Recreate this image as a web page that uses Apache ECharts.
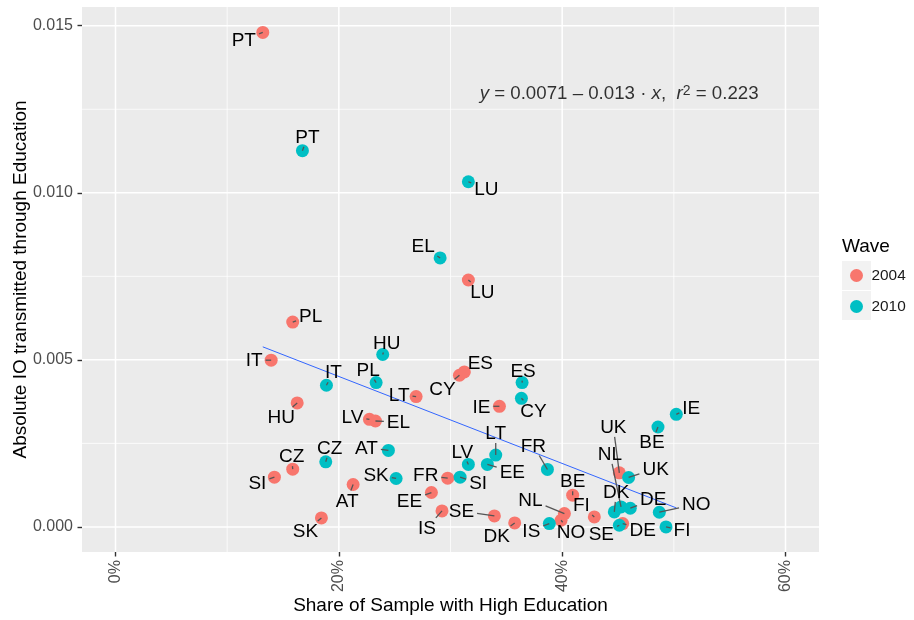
<!DOCTYPE html>
<html><head><meta charset="utf-8">
<script src="https://cdn.jsdelivr.net/npm/echarts@6/dist/echarts.min.js"></script>
<style>html,body{margin:0;padding:0;background:#fff}#c{width:914px;height:620px}</style>
</head><body><div id="c"></div>
<script>
// ---------- data (x = % of sample with high education, y = absolute IO) ----------
const countries2004 = ['PT','PL','IT','HU','LV','EL','LT','CY','ES','IE','LU','CZ','SI','AT','SK','FR','EE','IS','SE','DK','BE','NL','NO','FI','UK','DE'];
const x2004 = [13.19,15.87,13.94,16.27,22.74,23.28,26.92,30.80,31.24,34.38,31.60,15.87,14.23,21.28,18.44,29.75,28.29,29.24,33.93,35.75,40.94,40.20,39.90,42.88,45.12,45.42];
const y2004 = [0.01480,0.00613,0.00499,0.00371,0.00322,0.00317,0.00390,0.00454,0.00464,0.00361,0.00739,0.00173,0.00149,0.00127,0.00027,0.00146,0.00103,0.00048,0.00033,0.00012,0.00095,0.00040,0.00020,0.00030,0.00162,0.00010];

const countries2010 = ['PT','EL','LU','HU','IT','PL','AT','CZ','SK','SI','LV','EE','LT','FR','IS','ES','CY','BE','IE','UK','NL','DK','DE','SE','NO','FI'];
const x2010 = [16.74,29.07,31.60,23.93,18.89,23.34,24.44,18.83,25.13,30.86,31.60,33.30,34.05,38.68,38.85,36.41,36.35,48.58,50.22,45.95,45.27,44.67,46.10,45.12,48.70,49.30];
const y2010 = [0.01126,0.00805,0.01033,0.00516,0.00424,0.00432,0.00229,0.00195,0.00145,0.00149,0.00187,0.00187,0.00215,0.00172,0.00010,0.00432,0.00385,0.00299,0.00337,0.00148,0.00060,0.00045,0.00056,0.00005,0.00044,0.00000];

// regression line end points (as drawn in the reference)
const fitX = [13.19, 50.22];
const fitY = [0.00539, 0.00057];

// axis ticks
const xMajorTicks = [0, 20, 40, 60];
const xMinorTicks = [10, 30, 50];
const yMajorTicks = [0, 0.005, 0.010, 0.015];
const yMinorTicks = [0.0025, 0.0075, 0.0125];

const eqText = '{i|y} = 0.0071 – 0.013 · {i|x},  {i|r}{s|2} = 0.223';
const eqAnchor = [45.1, 0.01296];

// ---------- label layout (pixel offsets of label centre from point) ----------
const labelOffsets2004 = [[-19,7],[18,-6],[-17,0],[-16,14],[-17,-3],[23,1],[-17,-2],[-17,14],[16,-9],[-18,0],[14,12],[-1,-13],[-17,6],[-6,16],[-16,13],[-22,-3],[-22,8],[-15,17],[-33,-5],[-18,13],[0,-14],[-34,-14],[10,12],[-13,-12],[-6,-46],[20,6]];
const labelOffsets2010 = [[5,-14],[-17,-12],[18,7],[4,-12],[7,-13],[-8,-13],[-22,-3],[4,-14],[-20,-4],[18,6],[-6,-13],[25,7],[0,-22],[-14,-24],[-18,7],[1,-12],[12,12],[-6,15],[15,-7],[27,-9],[-11,-53],[2,-20],[23,-9],[-18,8],[37,-8],[16,3]];

const FONT = '"Liberation Sans", Arial, Helvetica, sans-serif';
const RED = '#F8766D', TEAL = '#00BFC4';

const pts2004 = x2004.map((v, i) => [v, y2004[i]]);
const pts2010 = x2010.map((v, i) => [v, y2010[i]]);
const labelItems = [];
countries2004.forEach((c, i) => labelItems.push({name: c, off: labelOffsets2004[i]}));
countries2010.forEach((c, i) => labelItems.push({name: c, off: labelOffsets2010[i]}));
const labelData = pts2004.concat(pts2010);

// grid line items: [value, orientation (0 = vertical, 1 = horizontal), major flag]
const gridItems = [];
xMajorTicks.forEach(v => gridItems.push([v, 0, 1]));
xMinorTicks.forEach(v => gridItems.push([v, 0, 0]));
yMajorTicks.forEach(v => gridItems.push([v, 1, 1]));
yMinorTicks.forEach(v => gridItems.push([v, 1, 0]));

const mctx = document.createElement('canvas').getContext('2d');
mctx.font = '19px ' + FONT;
const CAP_HALF = 7, PAD = 3;

function renderGrid(params, api) {
  const it = gridItems[params.dataIndex];
  const cs = params.coordSys;
  const w = it[2] ? 1.5 : 0.75;
  if (it[1] === 0) {
    const x = api.coord([it[0], 0])[0];
    return {type: 'line', shape: {x1: x, y1: cs.y, x2: x, y2: cs.y + cs.height}, style: {stroke: '#FFFFFF', lineWidth: w}, silent: true};
  }
  const y = api.coord([0, it[0]])[1];
  return {type: 'line', shape: {x1: cs.x, y1: y, x2: cs.x + cs.width, y2: y}, style: {stroke: '#FFFFFF', lineWidth: w}, silent: true};
}

function renderLabel(params, api) {
  const it = labelItems[params.dataIndex];
  const p = api.coord([api.value(0), api.value(1)]);
  const lx = p[0] + it.off[0], ly = p[1] + it.off[1];
  const hw = mctx.measureText(it.name).width / 2 + PAD;
  const hh = CAP_HALF + PAD;
  const dx = p[0] - lx, dy = p[1] - ly;
  const sx = Math.abs(dx) > 1e-6 ? hw / Math.abs(dx) : Infinity;
  const sy = Math.abs(dy) > 1e-6 ? hh / Math.abs(dy) : Infinity;
  const s = Math.min(sx, sy);
  const children = [];
  if (s < 1) {
    const ex = lx + dx * s, ey = ly + dy * s;
    const len = Math.hypot(ex - p[0], ey - p[1]);
    if (len > 2) {
      children.push({type: 'line', shape: {x1: p[0], y1: p[1], x2: ex, y2: ey},
        style: {stroke: '#555555', lineWidth: 1.3}});
    }
  }
  children.push({type: 'text', style: {text: it.name, x: lx, y: ly + 1, align: 'center', verticalAlign: 'middle',
    fontSize: 19, fontFamily: FONT, fill: '#000000'}});
  return {type: 'group', children};
}

const chart = echarts.init(document.getElementById('c'), null, {renderer: 'canvas'});
chart.setOption({
  animation: false,
  textStyle: {fontFamily: FONT},
  title: {text: 'Wave', left: 842, top: 237, padding: 0, textStyle: {fontSize: 19, fontWeight: 'normal', color: '#000', fontFamily: FONT}},
  legend: {
    data: [{name: '2004'}, {name: '2010'}],
    orient: 'vertical', left: 850, top: 268, padding: 0,
    icon: 'circle', itemWidth: 20, itemHeight: 13, itemGap: 16,
    textStyle: {fontSize: 15.4, color: '#1A1A1A', fontFamily: FONT, lineHeight: 13},
    selectedMode: false
  },
  graphic: [
    {type: 'rect', left: 842, top: 261, shape: {width: 29, height: 29}, style: {fill: '#F2F2F2'}, z: -1, silent: true},
    {type: 'rect', left: 842, top: 291, shape: {width: 29, height: 29}, style: {fill: '#F2F2F2'}, z: -1, silent: true}
  ],
  grid: {left: 82, right: 95, top: 7, bottom: 68, show: true, backgroundColor: '#EBEBEB', borderWidth: 0,
    containLabel: false, outerBoundsMode: 'none'},
  xAxis: {
    type: 'value', min: -3, max: 63,
    name: 'Share of Sample with High Education', nameLocation: 'middle', nameGap: 44, nameMoveOverlap: false,
    nameTextStyle: {fontSize: 19, color: '#000', fontFamily: FONT},
    axisLine: {show: false, onZero: false},
    axisTick: {show: true, customValues: xMajorTicks, length: 4.5, lineStyle: {color: '#333333', width: 1.4}},
    axisLabel: {customValues: xMajorTicks, rotate: 90, margin: 8, fontSize: 16, color: '#4D4D4D', fontFamily: FONT, formatter: v => v + '%'},
    splitLine: {show: false}
  },
  yAxis: {
    type: 'value', min: -0.00075, max: 0.01556,
    name: 'Absolute IO transmitted through Education', nameLocation: 'middle', nameGap: 52, nameMoveOverlap: false,
    nameTextStyle: {fontSize: 19, color: '#000', fontFamily: FONT},
    axisLine: {show: false, onZero: false},
    axisTick: {show: true, customValues: yMajorTicks, length: 4.5, lineStyle: {color: '#333333', width: 1.4}},
    axisLabel: {customValues: yMajorTicks, margin: 9, fontSize: 16, color: '#4D4D4D', fontFamily: FONT, formatter: v => v.toFixed(3)},
    splitLine: {show: false}
  },
  series: [
    {type: 'custom', data: gridItems, renderItem: renderGrid, z: 1, silent: true},
    {name: '2004', type: 'scatter', data: pts2004, symbolSize: 13, z: 2, itemStyle: {color: RED, opacity: 1}, emphasis: {disabled: true}},
    {name: '2010', type: 'scatter', data: pts2010, symbolSize: 13, z: 2, itemStyle: {color: TEAL, opacity: 1}, emphasis: {disabled: true}},
    {type: 'line', data: fitX.map((v, i) => [v, fitY[i]]), showSymbol: false, z: 3, silent: true,
      lineStyle: {color: '#3366FF', width: 1}, emphasis: {disabled: true}},
    {type: 'custom', data: labelData, renderItem: renderLabel, z: 4, silent: true, clip: false},
    {type: 'scatter', data: [eqAnchor], symbolSize: 0, z: 4, silent: true,
      label: {show: true, position: 'inside', formatter: eqText, fontSize: 18.7, color: '#000', fontFamily: FONT,
        rich: {i: {fontStyle: 'italic', fontSize: 18.7, fontFamily: FONT, color: '#000'},
               s: {fontSize: 14, verticalAlign: 'top', fontFamily: FONT, color: '#000'}}}}
  ]
});
</script></body></html>
